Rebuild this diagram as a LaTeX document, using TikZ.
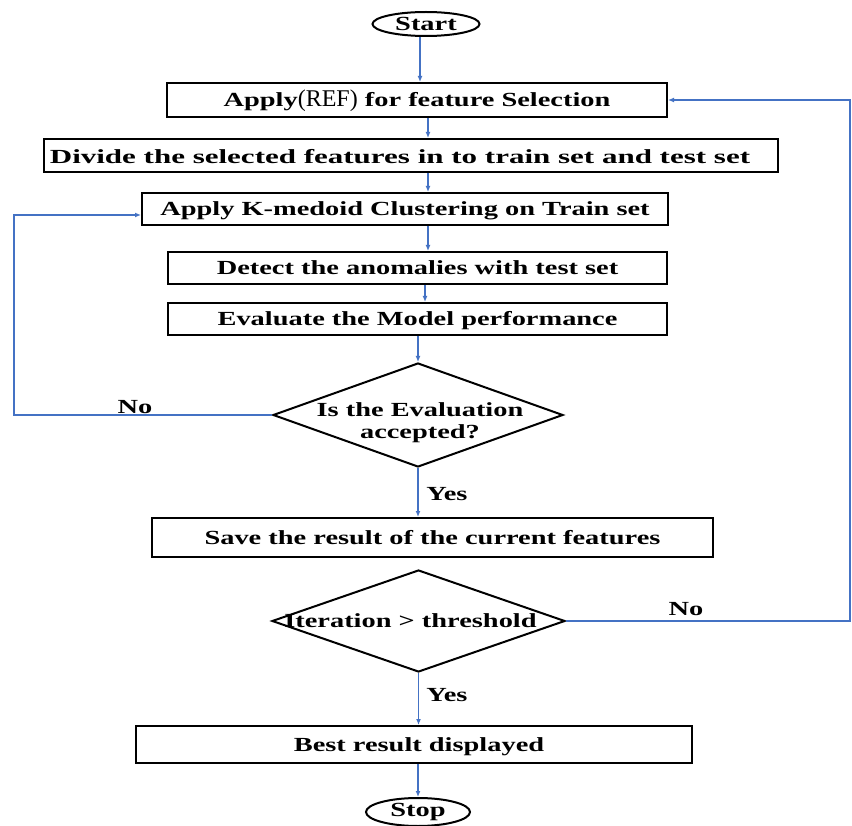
\documentclass[tikz,border=0pt]{standalone}
\usepackage{fontspec}
\setmainfont[FakeStretch=1.42]{Liberation Serif}
\newfontfamily\reffont{Liberation Serif}
\newfontfamily\widefont[FakeStretch=1.55]{Liberation Serif}
\usetikzlibrary{shapes.geometric,arrows.meta,calc}
\definecolor{flowblue}{RGB}{68,114,196}

\begin{document}
\begin{tikzpicture}[x=1pt,y=-1pt,
  every node/.style={font=\fontsize{20}{22}\selectfont\bfseries, inner sep=0pt},
  procbox/.style={draw=black, line width=2pt, rectangle, text height=14pt, text depth=0pt},
  terminal/.style={draw=black, line width=2pt, ellipse},
  decision/.style={draw=black, line width=2pt, diamond},
  arr/.style={draw=flowblue, line width=1.2pt, -{Latex[length=6pt,width=5pt]}}
]
\fill[white] (0,0) rectangle (852,826);
\useasboundingbox (0,0) rectangle (852,826);

% terminals
\node[terminal, minimum width=107pt, minimum height=24pt] (start) at (426,24) {Start};
\node[terminal, minimum width=104pt, minimum height=28pt] (stop) at (418,812) {Stop};

% process steps
\node[procbox, minimum width=500pt, minimum height=34pt] (b1) at (417,100)
  {Apply{\reffont\mdseries\fontsize{24}{26}\selectfont(REF)} for feature Selection};
\node[procbox, minimum width=734pt, minimum height=33pt,
  label={[xshift=-11pt,yshift=-1pt]center:{\widefont Divide the selected features in to train set and test set}}]
  (b2) at (411,155.5) {};
\node[procbox, minimum width=526pt, minimum height=32pt] (b3) at (405,209)
  {Apply K-medoid Clustering on Train set};
\node[procbox, minimum width=499pt, minimum height=32pt] (b4) at (417.5,268)
  {Detect the anomalies with test set};
\node[procbox, minimum width=499pt, minimum height=32pt] (b5) at (417.5,319)
  {Evaluate the Model performance};
\node[procbox, minimum width=561pt, minimum height=39pt] (b6) at (432.5,537.5)
  {Save the result of the current features};
\node[procbox, minimum width=556pt, minimum height=37pt] (b7) at (414,744.5)
  {\hspace*{10pt}Best result displayed};

% decisions
\node[decision, minimum width=290pt, minimum height=104pt,
  label={[align=center,yshift=-8pt,xshift=2pt]center:Is the Evaluation\\accepted?}] (d1) at (418,415) {};
\node[decision, minimum width=293pt, minimum height=102pt,
  label={[xshift=-8pt]center:Iteration > threshold}] (d2) at (418.5,621) {};

% branch labels
\node (no1) at (135,407) {No};
\node (yes1) at (447,494) {Yes};
\node (no2) at (686,609) {No};
\node (yes2) at (447,695) {Yes};

% guide columns for the vertical arrows
\coordinate (colA) at (420,0);
\coordinate (colB) at (428,0);
\coordinate (colC) at (425,0);
\coordinate (lx) at (14,0);
\coordinate (rx) at (850,0);

% main flow
\draw[arr] (start.south -| colA) -- (b1.north -| colA);
\draw[arr] (b1.south -| colB) -- (b2.north -| colB);
\draw[arr] (b2.south -| colB) -- (b3.north -| colB);
\draw[arr] (b3.south -| colB) -- (b4.north -| colB);
\draw[arr] (b4.south -| colC) -- (b5.north -| colC);
\draw[arr] (b5.south -| d1.north) -- (d1.north);
\draw[arr] (d1.south) -- (d1.south |- b6.north);
\draw[arr] (d2.south) -- (d2.south |- b7.north);
\draw[arr] (b7.south -| stop.north) -- (stop.north);

% feedback loops
\draw[arr] (d1.west) -- (d1.west -| lx) |- ($(b3.west)+(0,6)$);
\draw[arr] (d2.east) -- (d2.east -| rx) |- (b1.east);
\end{tikzpicture}
\end{document}
